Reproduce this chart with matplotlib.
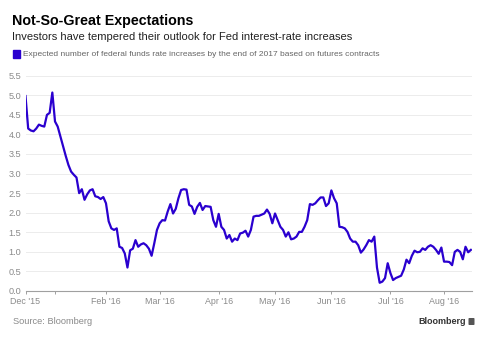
import numpy as np
import pandas as pd
import matplotlib
matplotlib.use("Agg")
import matplotlib.pyplot as plt
from matplotlib.patches import FancyBboxPatch

# ---- data ----
start_date = "2015-12-16"
end_date = "2016-08-15"
holidays = ["2015-12-25", "2016-01-01", "2016-01-18", "2016-02-15",
            "2016-03-25", "2016-05-30", "2016-07-04"]

hikes = [
    4.98, 4.15, 4.10, 4.08, 4.15, 4.25, 4.22, 4.20, 4.50, 4.55,
    5.07, 4.33, 4.20, 3.95, 3.70, 3.45, 3.22, 3.05, 2.97, 2.90,
    2.50, 2.60, 2.33, 2.47, 2.57, 2.60, 2.42, 2.40, 2.35, 2.40,
    2.24, 1.78, 1.60, 1.56, 1.60, 1.13, 1.10, 0.96, 0.60, 1.04,
    1.08, 1.30, 1.13, 1.19, 1.22, 1.17, 1.08, 0.90, 1.22, 1.56,
    1.73, 1.81, 1.80, 2.03, 2.22, 1.98, 2.10, 2.37, 2.58, 2.60,
    2.59, 2.20, 2.16, 1.97, 2.15, 2.25, 2.07, 2.17, 2.16, 2.15,
    1.81, 1.64, 1.97, 1.64, 1.56, 1.34, 1.43, 1.26, 1.34, 1.30,
    1.47, 1.49, 1.54, 1.39, 1.56, 1.90, 1.92, 1.92, 1.95, 1.98,
    2.08, 1.97, 1.73, 1.98, 1.81, 1.64, 1.56, 1.39, 1.50, 1.32,
    1.34, 1.39, 1.51, 1.51, 1.64, 1.81, 2.22, 2.20, 2.24, 2.32,
    2.39, 2.39, 2.17, 2.24, 2.57, 2.37, 2.24, 1.64, 1.63, 1.60,
    1.51, 1.34, 1.26, 1.26, 1.17, 0.98, 1.06, 1.17, 1.30, 1.26,
    1.39, 0.60, 0.21, 0.24, 0.33, 0.71, 0.46, 0.28, 0.33, 0.36,
    0.39, 0.55, 0.80, 0.71, 0.90, 1.03, 0.99, 1.00, 1.09, 1.05,
    1.13, 1.17, 1.13, 1.05, 0.95, 1.11, 0.75, 0.75, 0.74, 0.66,
    1.00, 1.05, 1.00, 0.81, 1.13, 0.99, 1.05,
]
y_ticks = [0.0, 0.5, 1.0, 1.5, 2.0, 2.5, 3.0, 3.5, 4.0, 4.5, 5.0, 5.5]
hidden_tick_months = ["2016-01"]

title = "Not-So-Great Expectations"
subtitle = "Investors have tempered their outlook for Fed interest-rate increases"
legend_label = ("Expected number of federal funds rate increases by the end "
                "of 2017 based on futures contracts")
source = "Source: Bloomberg"

# ---- build ----
dates = pd.bdate_range(start_date, end_date, freq="C", holidays=holidays)
n = min(len(dates), len(hikes))
dates = dates[:n]
vals = np.array(hikes[:n])
xi = np.arange(n)

periods = dates.to_period("M")
tick_pos, tick_lab = [], []
for i, p in enumerate(periods):
    if i == 0 or p != periods[i - 1]:
        tick_pos.append(i)
        lab = dates[i].strftime("%b '%y")
        if str(p) in hidden_tick_months:
            lab = ""
        tick_lab.append(lab)

plt.rcParams["font.family"] = ["Liberation Sans", "DejaVu Sans"]

W, H = 488, 339
fig = plt.figure(figsize=(W / 100, H / 100), dpi=100)
fig.patch.set_facecolor("white")

ax_l, ax_r, ax_b, ax_t = 25.5, 471.7, 291.0, 75.7
ax = fig.add_axes([ax_l / W, 1 - ax_b / H, (ax_r - ax_l) / W, (ax_b - ax_t) / H])

blue = "#2a00cf"
ax.plot(xi, vals, color=blue, lw=1.6, solid_joinstyle="round", zorder=3)

ax.set_xlim(0, (ax_r - ax_l) / 2.683)
ax.set_ylim(0, 5.5)
ax.set_yticks(y_ticks)
ax.set_yticklabels([f"{t:.1f}" for t in y_ticks])
ax.set_xticks(tick_pos)
ax.set_xticklabels(tick_lab)

ax.grid(axis="y", color="#ececec", lw=0.7, zorder=0)
ax.grid(axis="x", visible=False)
for s in ["top", "right", "left"]:
    ax.spines[s].set_visible(False)
ax.spines["bottom"].set_color("#a0a0a0")
ax.spines["bottom"].set_linewidth(0.8)
ax.tick_params(axis="y", length=0, pad=3, labelsize=6.6, labelcolor="#8a8a8a")
ax.tick_params(axis="x", length=2.5, width=0.7, color="#a0a0a0", pad=1.5,
               labelsize=6.4, labelcolor="#8a8a8a")
ax.set_facecolor("white")

# ---- texts ----
fig.text(12.5 / W, 1 - 21 / H, title, fontsize=10.3, fontweight="bold",
         color="#000000", va="center", ha="left")
fig.text(12.5 / W, 1 - 37 / H, subtitle, fontsize=8.0, color="#222222",
         va="center", ha="left")
fig.patches.append(plt.Rectangle((12.7 / W, 1 - 57.5 / H), 7.2 / W, 7.2 / H,
                                 transform=fig.transFigure, color=blue,
                                 figure=fig))
fig.text(22.7 / W, 1 - 54 / H, legend_label, fontsize=6.05, color="#666666",
         va="center", ha="left")
fig.text(12.7 / W, 1 - 321.7 / H, source, fontsize=6.7, color="#8a8a8a",
         va="center", ha="left")
fig.text(465.5 / W, 1 - 321.5 / H, "Bloomberg", fontsize=6.5, fontweight="bold",
         color="#333333", va="center", ha="right")
icon = FancyBboxPatch((468.5 / W, 1 - 325 / H), 6.0 / W, 7.0 / H,
                      boxstyle="round,pad=0,rounding_size=0.002",
                      transform=fig.transFigure, facecolor="#555555",
                      edgecolor="none", figure=fig)
fig.patches.append(icon)

fig.savefig("out.png", dpi=100, facecolor="white")
